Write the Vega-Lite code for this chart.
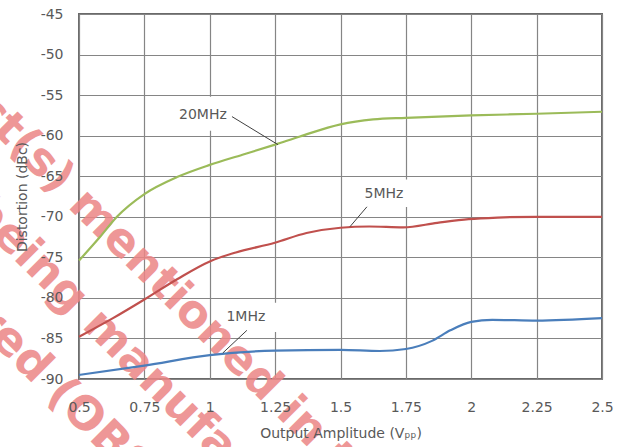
{
  "$schema": "https://vega.github.io/schema/vega-lite/v6.json",
  "width": 523,
  "height": 365,
  "autosize": {"type": "none"},
  "padding": {"left": 79, "top": 14, "right": 24, "bottom": 68},
  "background": "white",
  "config": {
    "view": {"stroke": "#6a6a6a", "strokeWidth": 2},
    "axis": {"labelFont": "DejaVu Sans", "labelFontSize": 14, "labelColor": "#595959", "titleFont": "DejaVu Sans", "titleFontSize": 14, "titleColor": "#595959", "titleFontWeight": "normal", "gridColor": "#858585", "gridWidth": 1.2, "gridOpacity": 1, "domain": false, "ticks": false, "labelFlush": false, "labelOverlap": false}
  },
  "resolve": {"axis": {"x": "independent", "y": "independent"}},
  "datasets": {
    "curves": [
      {"f": "20MHz", "x": 0.5, "y": -75.4}, {"f": "20MHz", "x": 0.58, "y": -72.5}, {"f": "20MHz", "x": 0.645, "y": -70.0}, {"f": "20MHz", "x": 0.75, "y": -67.2}, {"f": "20MHz", "x": 0.875, "y": -65.1}, {"f": "20MHz", "x": 1.0, "y": -63.6}, {"f": "20MHz", "x": 1.125, "y": -62.35}, {"f": "20MHz", "x": 1.25, "y": -61.1}, {"f": "20MHz", "x": 1.345, "y": -60.1}, {"f": "20MHz", "x": 1.5, "y": -58.6}, {"f": "20MHz", "x": 1.625, "y": -58.0}, {"f": "20MHz", "x": 1.75, "y": -57.8}, {"f": "20MHz", "x": 2.0, "y": -57.5}, {"f": "20MHz", "x": 2.25, "y": -57.3}, {"f": "20MHz", "x": 2.5, "y": -57.05},
      {"f": "5MHz", "x": 0.5, "y": -84.8}, {"f": "5MHz", "x": 0.63, "y": -82.5}, {"f": "5MHz", "x": 0.75, "y": -80.2}, {"f": "5MHz", "x": 0.875, "y": -77.7}, {"f": "5MHz", "x": 1.0, "y": -75.5}, {"f": "5MHz", "x": 1.1, "y": -74.4}, {"f": "5MHz", "x": 1.249, "y": -73.2}, {"f": "5MHz", "x": 1.37, "y": -72.0}, {"f": "5MHz", "x": 1.5, "y": -71.35}, {"f": "5MHz", "x": 1.61, "y": -71.2}, {"f": "5MHz", "x": 1.74, "y": -71.3}, {"f": "5MHz", "x": 1.87, "y": -70.75}, {"f": "5MHz", "x": 1.99, "y": -70.3}, {"f": "5MHz", "x": 2.1, "y": -70.1}, {"f": "5MHz", "x": 2.25, "y": -70.0}, {"f": "5MHz", "x": 2.5, "y": -70.0},
      {"f": "1MHz", "x": 0.5, "y": -89.5}, {"f": "1MHz", "x": 0.75, "y": -88.35}, {"f": "1MHz", "x": 1.0, "y": -87.05}, {"f": "1MHz", "x": 1.25, "y": -86.5}, {"f": "1MHz", "x": 1.5, "y": -86.4}, {"f": "1MHz", "x": 1.65, "y": -86.55}, {"f": "1MHz", "x": 1.75, "y": -86.3}, {"f": "1MHz", "x": 1.85, "y": -85.3}, {"f": "1MHz", "x": 1.92, "y": -84.0}, {"f": "1MHz", "x": 2.0, "y": -82.95}, {"f": "1MHz", "x": 2.08, "y": -82.7}, {"f": "1MHz", "x": 2.25, "y": -82.8}, {"f": "1MHz", "x": 2.5, "y": -82.5}
    ],
    "boxes": [
      {"x": 0.855, "x2": 1.093, "y": -55.2, "y2": -59.4},
      {"x": 1.567, "x2": 1.765, "y": -65.4, "y2": -68.8},
      {"x": 1.047, "x2": 1.268, "y": -80.6, "y2": -84.2}
    ],
    "leaders": [
      {"x": 1.085, "y": -57.65, "x2": 1.261, "y2": -61.11},
      {"x": 1.601, "y": -68.77, "x2": 1.536, "y2": -71.23},
      {"x": 1.142, "y": -84.0, "x2": 1.05, "y2": -86.79}
    ],
    "labels": [
      {"t": "20MHz", "x": 0.974, "y": -57.5},
      {"t": "5MHz", "x": 1.666, "y": -67.2},
      {"t": "1MHz", "x": 1.138, "y": -82.4}
    ],
    "wmRight": [
      {"t": "mentioned in this document", "x": 0.4924, "y": -67.53},
      {"t": "manufactured", "x": 0.5459, "y": -82.35},
      {"t": "(OBSOLETE)", "x": 0.4083, "y": -90.86}
    ],
    "wmLeft": [
      {"t": "Product(s)", "x": 0.4503, "y": -66.17},
      {"t": "being", "x": 0.5038, "y": -80.99},
      {"t": "manufactured", "x": 0.3662, "y": -89.51}
    ]
  },
  "layer": [
    {
      "data": {"name": "boxes"},
      "mark": {"type": "rect", "fill": "white", "stroke": null},
      "encoding": {
        "x": {"field": "x", "type": "quantitative", "scale": {"domain": [0.5, 2.5], "nice": false, "zero": false}, "axis": {"orient": "bottom", "values": [0.5, 0.75, 1, 1.25, 1.5, 1.75, 2, 2.25, 2.5], "labels": false, "title": null, "zindex": 0}},
        "x2": {"field": "x2"},
        "y": {"field": "y", "type": "quantitative", "scale": {"domain": [-90, -45], "nice": false, "zero": false}, "axis": {"orient": "left", "values": [-90, -85, -80, -75, -70, -65, -60, -55, -50, -45], "labels": false, "title": null, "zindex": 0}},
        "y2": {"field": "y2"}
      }
    },
    {
      "data": {"name": "wmRight"},
      "mark": {"type": "text", "angle": 45, "align": "left", "baseline": "middle", "font": "DejaVu Sans", "fontWeight": "bold", "fontSize": 46, "fill": "#ec8585", "opacity": 0.85},
      "encoding": {"x": {"field": "x", "type": "quantitative", "axis": null}, "y": {"field": "y", "type": "quantitative", "axis": null}, "text": {"field": "t"}}
    },
    {
      "data": {"name": "wmLeft"},
      "mark": {"type": "text", "angle": 45, "align": "right", "baseline": "middle", "font": "DejaVu Sans", "fontWeight": "bold", "fontSize": 46, "fill": "#ec8585", "opacity": 0.85},
      "encoding": {"x": {"field": "x", "type": "quantitative", "axis": null}, "y": {"field": "y", "type": "quantitative", "axis": null}, "text": {"field": "t"}}
    },
    {
      "data": {"name": "curves"},
      "mark": {"type": "line", "interpolate": "monotone", "strokeWidth": 2.2},
      "encoding": {
        "x": {"field": "x", "type": "quantitative", "axis": null},
        "y": {"field": "y", "type": "quantitative", "axis": null},
        "color": {"field": "f", "type": "nominal", "scale": {"domain": ["20MHz", "5MHz", "1MHz"], "range": ["#9bbb59", "#c0504d", "#4a7ebb"]}, "legend": null}
      }
    },
    {
      "data": {"name": "leaders"},
      "mark": {"type": "rule", "color": "#404040", "strokeWidth": 1},
      "encoding": {"x": {"field": "x", "type": "quantitative", "axis": null}, "y": {"field": "y", "type": "quantitative", "axis": null}, "x2": {"field": "x2"}, "y2": {"field": "y2"}}
    },
    {
      "data": {"name": "labels"},
      "mark": {"type": "text", "font": "DejaVu Sans", "fontSize": 14, "fill": "#595959", "align": "center", "baseline": "middle"},
      "encoding": {
        "x": {"field": "x", "type": "quantitative", "axis": {"orient": "bottom", "grid": false, "values": [0.5, 0.75, 1, 1.25, 1.5, 1.75, 2, 2.25, 2.5], "labelExpr": "toString(datum.value)", "labelPadding": 21, "title": "Output Amplitude (Vₚₚ)", "titleY": 54, "titleBaseline": "middle", "zindex": 1}},
        "y": {"field": "y", "type": "quantitative", "axis": {"orient": "left", "grid": false, "values": [-90, -85, -80, -75, -70, -65, -60, -55, -50, -45], "labelExpr": "toString(datum.value)", "labelPadding": 16, "title": "Distortion (dBc)", "titleX": -57, "titleBaseline": "middle", "zindex": 1}},
        "text": {"field": "t"}
      }
    }
  ]
}
